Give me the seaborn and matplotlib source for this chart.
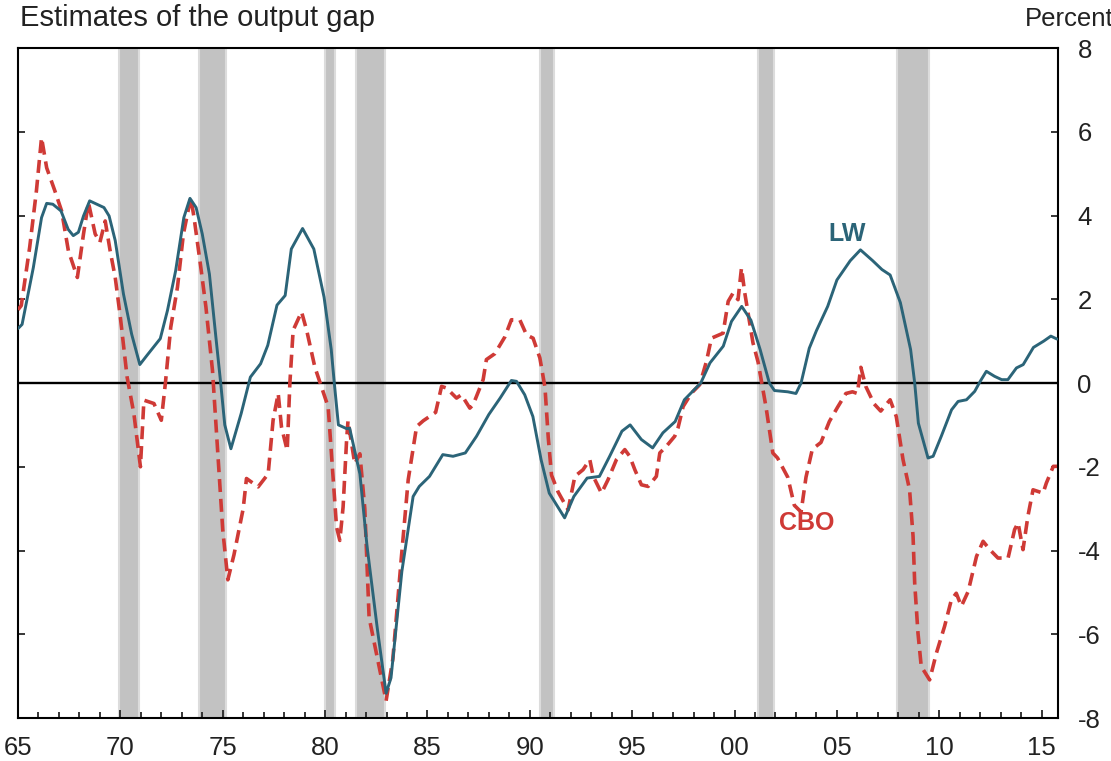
import numpy as np
import pandas as pd
import matplotlib
matplotlib.use("Agg")
import matplotlib.pyplot as plt
import seaborn as sns
from matplotlib.ticker import MultipleLocator, FixedLocator

# LW estimate (year, percent)
lw_year = [1965.0, 1965.2, 1965.75, 1966.15, 1966.4, 1966.7, 1967.1, 1967.45, 1967.7, 1967.95,
           1968.2, 1968.5, 1968.85, 1969.2, 1969.45, 1969.75, 1970.15, 1970.55, 1970.95, 1971.3,
           1971.95, 1972.3, 1972.7, 1973.1, 1973.4, 1973.7, 1974.0, 1974.35, 1974.65, 1974.9,
           1975.1, 1975.4, 1975.9, 1976.35, 1976.85, 1977.2, 1977.65, 1978.05, 1978.35, 1978.9,
           1979.45, 1979.95, 1980.3, 1980.45, 1980.65, 1981.05, 1981.2, 1981.7, 1982.05, 1982.55,
           1982.98, 1983.22, 1983.75, 1984.3, 1984.6, 1985.1, 1985.75, 1986.25, 1986.85, 1987.4,
           1988.0, 1988.55, 1989.1, 1989.35, 1989.75, 1990.15, 1990.55, 1990.95, 1991.7, 1992.15,
           1992.8, 1993.4, 1993.9, 1994.5, 1994.9, 1995.45, 1996.0, 1996.5, 1997.1, 1997.55,
           1998.35, 1998.8, 1999.45, 1999.85, 2000.35, 2000.8, 2001.25, 2001.7, 2001.95, 2002.6,
           2003.0, 2003.25, 2003.65, 2004.0, 2004.55, 2005.0, 2005.65, 2006.15, 2006.75, 2007.2,
           2007.6, 2008.1, 2008.6, 2008.8, 2008.98, 2009.45, 2009.7, 2010.1, 2010.6, 2010.92,
           2011.33, 2011.73, 2012.0, 2012.3, 2012.7, 2013.05, 2013.35, 2013.77, 2014.1, 2014.6,
           2015.1, 2015.45, 2015.75]
lw_gap = [1.3, 1.4, 2.76, 3.95, 4.29, 4.27, 4.11, 3.67, 3.52, 3.6,
          3.99, 4.35, 4.27, 4.19, 3.99, 3.4, 2.13, 1.17, 0.44, 0.66,
          1.06, 1.73, 2.68, 3.95, 4.41, 4.19, 3.56, 2.6, 1.17, 0.0,
          -1.0, -1.57, -0.73, 0.14, 0.46, 0.9, 1.86, 2.09, 3.2, 3.69,
          3.2, 2.05, 0.8, 0.0, -1.0, -1.09, -1.08, -2.17, -3.9, -5.86,
          -7.41, -7.04, -4.5, -2.71, -2.47, -2.23, -1.71, -1.75, -1.67, -1.27,
          -0.75, -0.36, 0.06, 0.04, -0.28, -0.8, -1.83, -2.63, -3.22, -2.71,
          -2.27, -2.23, -1.75, -1.15, -1.0, -1.35, -1.55, -1.19, -0.92, -0.4,
          0.0, 0.48, 0.88, 1.47, 1.83, 1.5, 0.8, 0.0, -0.18, -0.21,
          -0.25, 0.0, 0.83, 1.25, 1.83, 2.46, 2.92, 3.18, 2.92, 2.71,
          2.58, 1.92, 0.8, 0.0, -0.96, -1.79, -1.75, -1.27, -0.64, -0.44,
          -0.4, -0.2, 0.04, 0.28, 0.16, 0.08, 0.08, 0.36, 0.44, 0.85,
          1.0, 1.12, 1.05]

# CBO estimate (year, percent)
cbo_year = [1965.0, 1965.16, 1965.57, 1965.9, 1966.15, 1966.4, 1966.8, 1967.13, 1967.46, 1967.9,
            1968.2, 1968.44, 1968.77, 1969.0, 1969.26, 1969.5, 1969.75, 1970.0, 1970.33, 1970.66,
            1970.98, 1971.15, 1971.4, 1971.64, 1972.0, 1972.2, 1972.46, 1972.79, 1973.08, 1973.44,
            1973.6, 1973.93, 1974.18, 1974.5, 1974.75, 1975.0, 1975.25, 1975.55, 1976.0, 1976.16,
            1976.73, 1977.22, 1977.46, 1977.71, 1977.87, 1978.15, 1978.28, 1978.44, 1978.85, 1979.1,
            1979.5, 1979.83, 1980.15, 1980.32, 1980.56, 1980.72, 1980.88, 1981.05, 1981.12, 1981.45,
            1981.7, 1981.94, 1982.15, 1982.64, 1982.98, 1983.31, 1983.72, 1984.06, 1984.47, 1984.8,
            1985.4, 1985.69, 1985.93, 1986.42, 1986.66, 1987.07, 1987.23, 1987.72, 1987.88, 1988.29,
            1988.78, 1989.1, 1989.51, 1989.84, 1990.16, 1990.49, 1990.74, 1990.9, 1991.06, 1991.38,
            1991.87, 1992.2, 1992.6, 1992.93, 1993.1, 1993.5, 1993.82, 1994.23, 1994.64, 1994.88,
            1995.13, 1995.45, 1995.78, 1996.18, 1996.35, 1996.67, 1997.08, 1997.24, 1997.49, 1997.9,
            1998.3, 1998.63, 1998.87, 1999.44, 1999.69, 1999.93, 2000.17, 2000.34, 2000.5, 2000.9,
            2001.15, 2001.54, 2001.87, 2002.1, 2002.6, 2002.92, 2003.25, 2003.49, 2003.8, 2004.22,
            2004.63, 2005.03, 2005.44, 2005.76, 2006.0, 2006.17, 2006.41, 2006.82, 2007.14, 2007.6,
            2007.9, 2008.23, 2008.55, 2008.72, 2008.8, 2008.96, 2009.12, 2009.53, 2009.86, 2010.26,
            2010.59, 2010.83, 2011.08, 2011.41, 2011.82, 2012.14, 2012.47, 2012.87, 2013.36, 2013.68,
            2013.85, 2014.09, 2014.33, 2014.58, 2015.07, 2015.23, 2015.57, 2015.75]
cbo_gap = [1.75, 1.85, 3.24, 4.59, 5.86, 5.14, 4.59, 4.11, 3.16, 2.52,
           3.56, 4.31, 3.56, 3.36, 3.87, 3.16, 2.52, 1.57, 0.14, -0.73,
           -2.0, -0.41, -0.45, -0.49, -0.89, 0.0, 1.33, 2.29, 3.56, 4.43,
           3.95, 2.76, 1.81, 0.3, -1.6, -3.5, -4.7, -4.1, -3.0, -2.28,
           -2.48, -2.17, -0.89, -0.25, -1.05, -1.61, 0.0, 1.26, 1.7, 1.26,
           0.38, -0.1, -0.57, -1.77, -3.44, -3.76, -2.96, -1.37, -0.9, -1.93,
           -1.69, -3.0, -5.6, -6.77, -7.59, -6.59, -4.2, -2.31, -1.04, -0.9,
           -0.7, -0.08, -0.12, -0.36, -0.28, -0.6, -0.52, 0.08, 0.56, 0.7,
           1.1, 1.51, 1.51, 1.15, 1.07, 0.6, -0.1, -1.3, -2.2, -2.6,
           -3.03, -2.23, -2.07, -1.83, -2.23, -2.63, -2.31, -1.83, -1.59, -1.75,
           -2.07, -2.43, -2.47, -2.23, -1.67, -1.51, -1.27, -1.07, -0.56, -0.24,
           -0.04, 0.52, 1.07, 1.19, 1.95, 2.15, 1.99, 2.75, 2.15, 0.96,
           0.5, -0.58, -1.67, -1.79, -2.25, -2.92, -3.08, -2.25, -1.58, -1.42,
           -0.92, -0.58, -0.25, -0.21, -0.25, 0.375, -0.08, -0.5, -0.67, -0.4,
           -0.8, -1.83, -2.55, -3.66, -4.78, -5.97, -6.77, -7.09, -6.45, -5.81,
           -5.18, -5.02, -5.33, -4.98, -4.14, -3.78, -3.98, -4.18, -4.18, -3.5,
           -3.34, -3.98, -3.18, -2.55, -2.63, -2.39, -1.99, -1.99]

# NBER recessions (start, end)
rec_start = [1969.92, 1973.83, 1980.0, 1981.5, 1990.5, 2001.17, 2007.92]
rec_end = [1970.92, 1975.17, 1980.5, 1982.92, 1991.17, 2001.92, 2009.5]

x_ticks = list(range(1965, 2016, 5))
x_labels = ["65", "70", "75", "80", "85", "90", "95", "00", "05", "10", "15"]
y_ticks = [-8, -6, -4, -2, 0, 2, 4, 6, 8]

LW_COLOR = "#2b6478"
CBO_COLOR = "#cf3a36"
TEXT_COLOR = "#222222"

sns.set_style("white")
plt.rcParams['font.family'] = ['Liberation Sans', 'DejaVu Sans']

fig = plt.figure(figsize=(11.11, 7.61), dpi=100)
ax = fig.add_axes([0.0162, 0.0565, 0.9361, 0.8804])

for s, e in zip(rec_start, rec_end):
    ax.axvspan(s, e, facecolor="#c2c2c2", edgecolor="#dcdcdc", linewidth=1.5, zorder=0)

ax.axhline(0, color="black", linewidth=1.7, zorder=1)

lw_df = pd.DataFrame({"year": lw_year, "gap": lw_gap})
cbo_df = pd.DataFrame({"year": cbo_year, "gap": cbo_gap})

sns.lineplot(data=cbo_df, x="year", y="gap", ax=ax, color=CBO_COLOR, linewidth=2.6,
             linestyle=(0, (3.6, 1.9)), zorder=3)
sns.lineplot(data=lw_df, x="year", y="gap", ax=ax, color=LW_COLOR, linewidth=2.1, zorder=4)

ax.text(2005.5, 3.57, "LW", color=LW_COLOR, fontsize=18, fontweight="bold",
        ha="center", va="center")
ax.text(2003.5, -3.34, "CBO", color=CBO_COLOR, fontsize=18, fontweight="bold",
        ha="center", va="center")

ax.set_xlim(1965, 2015.8)
ax.set_ylim(-8, 8)
ax.set_xlabel("")
ax.set_ylabel("")

ax.xaxis.set_major_locator(FixedLocator(x_ticks))
ax.set_xticklabels(x_labels)
ax.xaxis.set_minor_locator(MultipleLocator(1))
ax.set_yticks(y_ticks)
ax.set_yticklabels([str(v) for v in y_ticks])

ax.tick_params(axis="x", which="major", direction="in", length=6, width=1.3,
               labelsize=18.5, pad=13, top=False, bottom=True, labelcolor=TEXT_COLOR)
ax.tick_params(axis="x", which="minor", direction="in", length=4, width=1.3,
               top=False, bottom=True)
ax.tick_params(axis="y", which="major", direction="in", length=5, width=1.3,
               left=True, right=True, labelleft=False, labelright=True,
               labelsize=18.5, pad=14, labelcolor=TEXT_COLOR)

for sp in ax.spines.values():
    sp.set_visible(True)
    sp.set_color("black")
    sp.set_linewidth(1.5)

fig.text(0.018, 0.976, "Estimates of the output gap", fontsize=21, ha="left", va="center",
         color=TEXT_COLOR)
fig.text(1.002, 0.975, "Percent", fontsize=18.5, ha="right", va="center", color=TEXT_COLOR)

fig.savefig("out.png", dpi=100)
